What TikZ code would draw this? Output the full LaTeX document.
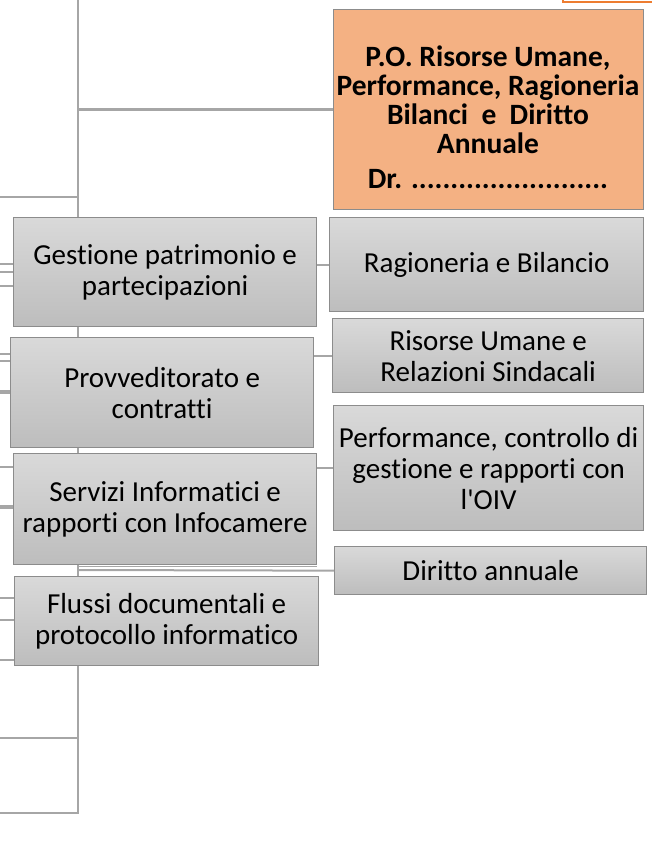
\documentclass[tikz,border=0pt]{standalone}
\usepackage{fontspec}
\setmainfont{Carlito}[Ligatures={NoCommon}]
\definecolor{connc}{HTML}{A6A6A6}
\definecolor{bordc}{HTML}{8C8C8C}
\definecolor{gtop}{HTML}{D9D9D9}
\definecolor{gbot}{HTML}{BDBDBD}
\definecolor{orfill}{HTML}{F4B183}
\definecolor{orline}{HTML}{ED7D31}
\begin{document}
\begin{tikzpicture}[x=1pt,y=-1pt,
  conn/.style={draw=connc,line width=2.4pt},
  unit/.style={draw=bordc,line width=1.3pt,top color=gtop,bottom color=gbot,
    align=center,inner sep=0pt,anchor=north west,
    font=\fontsize{29}{31}\selectfont},
  head/.style={draw=bordc,line width=1.3pt,fill=orfill,
    align=center,inner sep=0pt,anchor=north west}]
\useasboundingbox (0,0) rectangle (651,843);
% trunk
\coordinate (ttop) at (78,-5);
\coordinate (tbot) at (78,813);
\coordinate (tl1) at (0,197);
\coordinate (tl2) at (0,738);
\coordinate (tl3) at (0,813);
\draw[conn] (ttop) -- (tbot) -- (tl3);
\draw[conn] (tl1) -- (tl1 -| tbot);
\draw[conn] (tl2) -- (tl2 -| tbot);
% left stubs
\foreach \yy in {264,272,286,354,361,467,598,620,660}
  \draw[conn,line width=2pt] (0,\yy) -- (30,\yy);
\foreach \yy in {392,507}
  \draw[conn,line width=3.2pt] (0,\yy) -- (30,\yy);
% top-right outline
\coordinate (orA) at (563,-20);
\coordinate (orB) at (665,2);
\draw[draw=orline,line width=2.6pt,fill=white] (orA) rectangle (orB);
% boxes
\node[head,minimum width=310pt,minimum height=200pt] (po) at (333,9) {};
\node[align=center,font=\fontsize{29.5}{29}\selectfont\bfseries] (potxt) at (488,117)
  {P.O. Risorse Umane,\\Performance, Ragioneria\\Bilanci~ e~ Diritto\\Annuale\\[6pt]Dr. .........................};
\draw[conn] (po.west) -- (po.west -| ttop);
\node[unit,minimum width=303pt,minimum height=109pt] (gp) at (13,217) {Gestione patrimonio e\\partecipazioni};
\node[unit,minimum width=314pt,minimum height=94pt] (rb) at (329,217) {Ragioneria e Bilancio};
\node[unit,minimum width=303pt,minimum height=110pt] (pc) at (10,337) {Provveditorato e\\contratti};
\node[unit,minimum width=311pt,minimum height=74pt] (ru) at (332,318) {Risorse Umane e\\Relazioni Sindacali};
\node[unit,minimum width=310pt,minimum height=125pt] (pf) at (333,405) {Performance, controllo di\\gestione e rapporti con\\l\textquotesingle OIV};
\node[unit,minimum width=303pt,minimum height=111pt] (si) at (13,453) {Servizi Informatici e\\rapporti con Infocamere};
\node[unit,minimum width=312pt,minimum height=48pt] (da) at (334,546) {Diritto annuale};
\node[unit,minimum width=304pt,minimum height=89pt] (fd) at (14,576) {Flussi documentali e\\protocollo informatico};
% connectors between boxes
\draw[conn,line width=2pt] (rb.west) -- (rb.west -| gp.east);
\draw[conn,line width=2pt] (ru.west) -- (ru.west -| pc.east);
\draw[conn,line width=2pt] (pf.west) -- (pf.west -| si.east);
\coordinate (dj) at (78,570);
\draw[conn,line width=2pt] (da.west) -- (dj);
\draw[conn,line width=1.8pt] (78,566.5) -- (si.south east |- 0,566.5);
\end{tikzpicture}
\end{document}
